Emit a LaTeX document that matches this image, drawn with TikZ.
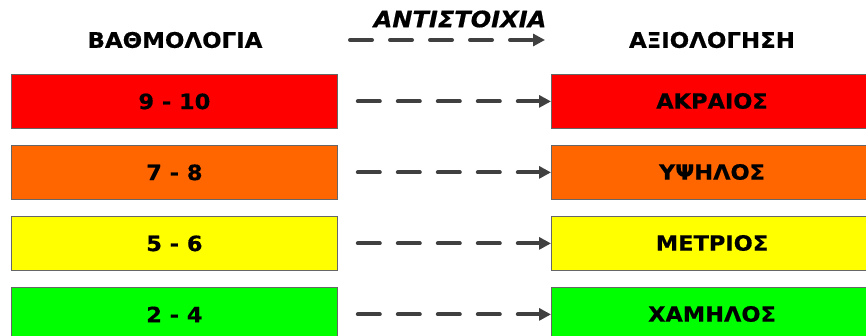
\documentclass[tikz,border=0pt]{standalone}
\usepackage{fontspec}
\setmainfont{DejaVu Sans}
\newfontfamily\heavy[FakeStretch=1.07,FakeBold=0.6]{DejaVu Sans Bold}
\newfontfamily\heavyit[FakeStretch=1.07,FakeBold=0.6]{DejaVu Sans Bold Oblique}
\usetikzlibrary{arrows.meta}
\definecolor{cred}{HTML}{FF0000}
\definecolor{corange}{HTML}{FF6600}
\definecolor{cyellow}{HTML}{FFFF00}
\definecolor{cgreen}{HTML}{00FF00}
\definecolor{cline}{HTML}{404040}
\definecolor{cborder}{HTML}{666666}
\begin{document}
\begin{tikzpicture}[x=1pt,y=-1pt,
  box/.style={draw=cborder, line width=0.8pt, anchor=north west, minimum height=54pt, inner sep=0pt, font=\heavy\fontsize{21}{21}\selectfont},
  lbox/.style={box, minimum width=326pt},
  rbox/.style={box, minimum width=330pt},
  rlabel/.style={font=\heavy\fontsize{21}{21}\selectfont},
  head/.style={font=\heavy\fontsize{21.4}{21.4}\selectfont},
  link/.style={draw=cline, line width=4pt, line cap=round, dash pattern=on 22pt off 18pt, -{Triangle[length=12pt,width=12pt]}}
]
\useasboundingbox (0,0) rectangle (866,336);
\node[head] (h1) at (175,40) {ΒΑΘΜΟΛΟΓΙΑ};
\node[head] (h2) at (712,40) {ΑΞΙΟΛΟΓΗΣΗ};
\node[font=\heavyit\fontsize{22.5}{22.5}\selectfont] (h3) at (460,19) {ΑΝΤΙΣΤΟΙΧΙΑ};
\coordinate (ha) at (350,40);
\coordinate (hb) at (545,40);
\draw[link] (ha) -- (hb);

\node[lbox, fill=cred] (l1) at (11,74) {9 - 10};
\node[lbox, fill=corange] (l2) at (11,145) {7 - 8};
\node[lbox, fill=cyellow] (l3) at (11,216) {5 - 6};
\node[lbox, fill=cgreen] (l4) at (11,287) {2 - 4};

\node[rbox, fill=cred] (r1) at (551,74) {};
\node[rbox, fill=corange] (r2) at (551,145) {};
\node[rbox, fill=cyellow] (r3) at (551,216) {};
\node[rbox, fill=cgreen] (r4) at (551,287) {};
\node[rlabel] (t1) at (712,101) {ΑΚΡΑΙΟΣ};
\node[rlabel] (t2) at (712,172) {ΥΨΗΛΟΣ};
\node[rlabel] (t3) at (712,243) {ΜΕΤΡΙΟΣ};
\node[rlabel] (t4) at (712,314) {ΧΑΜΗΛΟΣ};

\foreach \i in {1,2,3,4}{
  \draw[link, shorten <=20pt] (l\i.east) -- (r\i.west);
}
\end{tikzpicture}
\end{document}
